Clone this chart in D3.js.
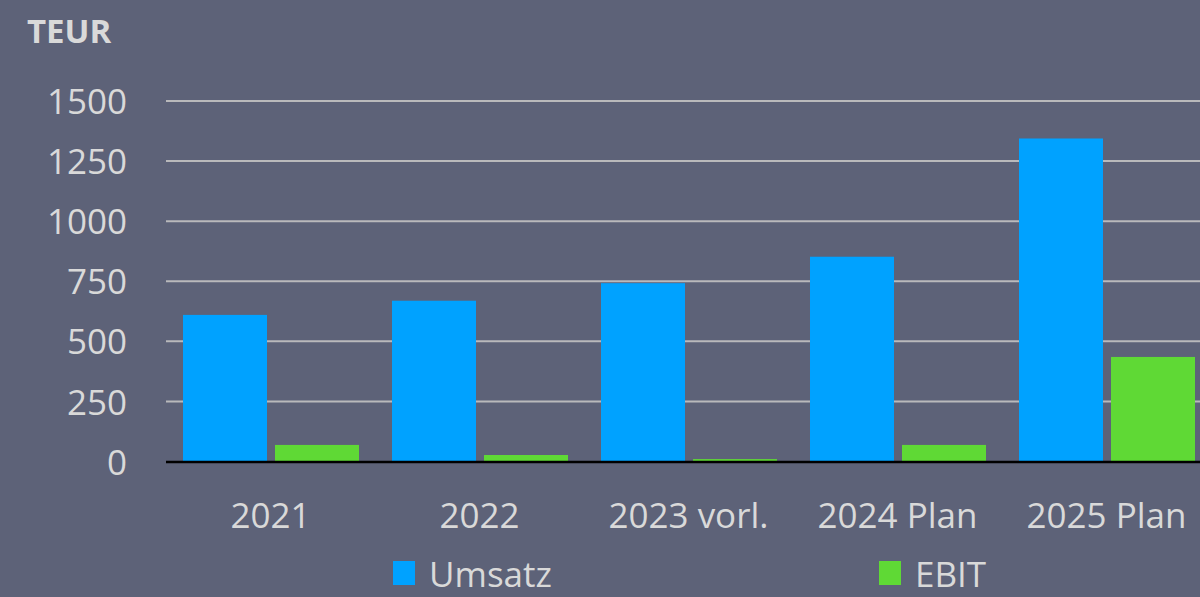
<!DOCTYPE html>
<html>
<head>
<meta charset="utf-8">
<script src="https://cdn.jsdelivr.net/npm/d3@7"></script>
<style>
  html, body { margin: 0; padding: 0; background: #5d6278; }
  svg { display: block; }
  text { font-family: "Open Sans", sans-serif; fill: #d9d9d9; }
</style>
</head>
<body>
<svg id="chart" width="1200" height="597"></svg>
<script>
const categories = ["2021", "2022", "2023 vorl.", "2024 Plan", "2025 Plan"];
const seriesNames = ["Umsatz", "EBIT"];
const umsatz = [610, 669, 742, 852, 1344];
const ebit = [69, 27, 10, 69, 435];
const yTicks = [0, 250, 500, 750, 1000, 1250, 1500];
const colors = ["#00a2ff", "#5fd935"];

const W = 1200, H = 597;
const svg = d3.select("#chart");
svg.append("rect").attr("width", W).attr("height", H).attr("fill", "#5d6278");

const x0 = 166, x1 = 1211;
const y = d3.scaleLinear().domain([0, 1500]).range([461.5, 101]);
const x = d3.scaleBand().domain(categories).range([x0, x1]).paddingInner(0).paddingOuter(0);
const inner = d3.scaleBand().domain(seriesNames).range([17, x.bandwidth() - 16]).paddingInner(0.087);

// gridlines
svg.append("g").selectAll("line").data(yTicks.filter(d => d > 0)).join("line")
  .attr("x1", x0).attr("x2", W)
  .attr("y1", d => y(d)).attr("y2", d => y(d))
  .attr("stroke", "#b9b9bb").attr("stroke-width", 2);

// y labels
const yAxis = d3.axisLeft(y).tickValues(yTicks).tickFormat(d3.format("d")).tickSize(0).tickPadding(0);
const gy = svg.append("g").attr("transform", "translate(127,0)").call(yAxis);
gy.select(".domain").remove();
gy.selectAll("text").attr("font-size", 35).attr("fill", "#d9d9d9")
  .style("font-family", '"Open Sans", sans-serif').attr("dy", "0.36em").attr("x", 0);

// bars
const data = categories.map((c, i) => ({ c, vals: [umsatz[i], ebit[i]] }));
const groups = svg.append("g").selectAll("g").data(data).join("g")
  .attr("transform", d => `translate(${x(d.c)},0)`);
groups.selectAll("rect").data(d => d.vals.map((v, j) => ({ v, s: seriesNames[j], j }))).join("rect")
  .attr("x", d => inner(d.s))
  .attr("width", inner.bandwidth())
  .attr("y", d => y(d.v))
  .attr("height", d => y(0) - y(d.v))
  .attr("fill", d => colors[d.j]);

// baseline
svg.append("line").attr("x1", x0).attr("x2", W).attr("y1", y(0) + 0.5).attr("y2", y(0) + 0.5)
  .attr("stroke", "#000").attr("stroke-width", 2.5);

// x labels
const xAxis = d3.axisBottom(x).tickSize(0).tickPadding(0);
const gx = svg.append("g").attr("transform", "translate(0,528)").call(xAxis);
gx.select(".domain").remove();
gx.selectAll("text").attr("font-size", 35).attr("fill", "#d9d9d9")
  .style("font-family", '"Open Sans", sans-serif').attr("dy", 0).attr("y", 0);

// title
svg.append("text").attr("x", 27).attr("y", 43).attr("font-size", 33).attr("font-weight", 700)
  .attr("fill", "#d9d9d9").text("TEUR");

// legend
const legendItems = [
  { name: seriesNames[0], color: colors[0], sx: 393, tx: 429 },
  { name: seriesNames[1], color: colors[1], sx: 879, tx: 915 }
];
const lg = svg.append("g");
legendItems.forEach(it => {
  lg.append("rect").attr("x", it.sx).attr("y", 561).attr("width", 22).attr("height", 24).attr("fill", it.color);
  lg.append("text").attr("x", it.tx).attr("y", 587).attr("font-size", 35).text(it.name);
});
</script>
</body>
</html>
